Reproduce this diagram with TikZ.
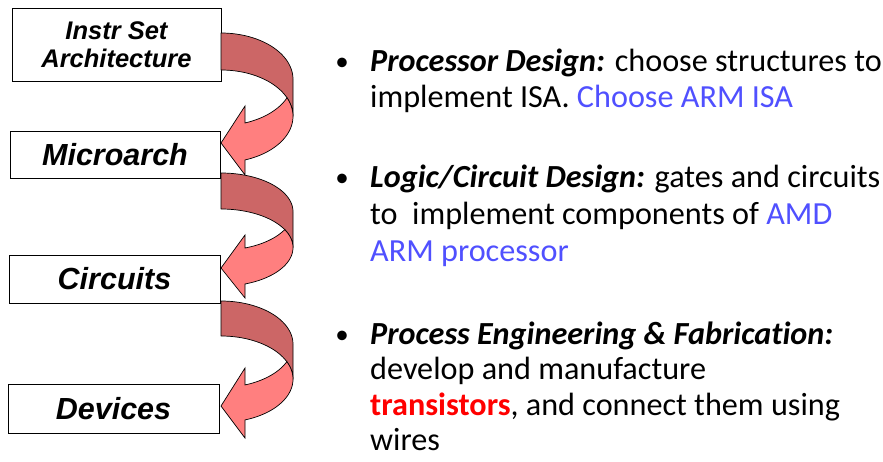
\documentclass[tikz,border=0pt]{standalone}
\usepackage{fontspec}
\setmainfont{Carlito}[Ligatures=NoCommon]
\newfontfamily\boxfont{Liberation Sans}
\definecolor{backred}{HTML}{CC6666}
\definecolor{frontred}{HTML}{FF7F7F}
\definecolor{linkblue}{HTML}{5050FF}
\definecolor{hotred}{HTML}{FF0000}

% Curved ribbon arrow leaving the right side of a box and coming back
% to the next box below.  #1 top edge, #2 band thickness, #3 vertical
% radius of the ellipses, #4 tip y, #5 upper barb y, #6 lower barb y.
\newcommand{\ribbonarrow}[6]{%
  \pgfmathsetmacro\ribA{#1+#3}%
  \pgfmathsetmacro\ribB{#1+#3+#2}%
  \pgfmathsetmacro\ribJ{asin(#2/(2*#3))}%
  \pgfmathsetmacro\ribN{acos(24/72)}%
  % back half of the ribbon
  \filldraw[backband]
    plot[domain=-90:0,samples=50] ({221+72*cos(\x)},{\ribA+#3*sin(\x)})
    -- plot[domain=0:-90,samples=50] ({221+72*cos(\x)},{\ribB+#3*sin(\x)})
    -- cycle;
  % front half with the arrow head
  \filldraw[frontband]
    plot[domain=\ribN:\ribJ,samples=40] ({221+72*cos(\x)},{\ribA+#3*sin(\x)})
    -- plot[domain=-\ribJ:\ribN,samples=50] ({221+72*cos(\x)},{\ribB+#3*sin(\x)})
    -- (245,#6) -- (221,#4) -- (245,#5) -- cycle;
}

\begin{document}
\begin{tikzpicture}[x=1pt,y=-1pt,
  layer/.style={draw=black, line width=0.8pt, fill=white, inner sep=0pt,
    align=center, font=\boxfont\bfseries\itshape\fontsize{30.5}{32}\selectfont},
  backband/.style={fill=backred, draw=black, line width=0.7pt, line join=round},
  frontband/.style={fill=frontred, draw=black, line width=0.7pt, line join=miter},
  txt/.style={anchor=base west, inner sep=0pt, font=\fontsize{32.2}{36}\selectfont},
  dot/.style={anchor=base, inner sep=0pt, font=\fontsize{27}{30}\selectfont}]

\useasboundingbox[fill=white] (0,0) rectangle (883,461);

% abstraction layers
\node[layer, minimum width=209pt, minimum height=73pt,
      font=\boxfont\bfseries\itshape\fontsize{25.5}{28}\selectfont]
  (isa) at (116.5,44.5) {Instr Set\\Architecture};
\node[layer, minimum width=210pt, minimum height=47.5pt] (uarch) at (115,154.75) {Microarch};
\node[layer, minimum width=211pt, minimum height=48pt] (circ) at (114.5,279) {Circuits};
\node[layer, minimum width=211pt, minimum height=49pt] (dev) at (113.5,408.5) {Devices};

% ribbons stepping down from one layer to the next
\ribbonarrow{33}{37}{46.3}{143}{106}{175}
\ribbonarrow{173}{36}{38.6}{268}{235}{298}
\ribbonarrow{301}{35}{43.2}{406}{368}{438}

% bullet list
\node[dot] (b1) at (342,70.5) {•};
\node[txt] (p1a) at (370,71.5) {\textbf{\textit{Processor Design:}} choose structures to};
\node[txt] (p1b) at (370,107.5) {implement ISA. \textcolor{linkblue}{Choose ARM ISA}};

\node[dot] (b2) at (342,186) {•};
\node[txt] (p2a) at (370,187) {\textbf{\textit{Logic/Circuit Design:}} gates and circuits};
\node[txt] (p2b) at (370,224) {to~~implement components of \textcolor{linkblue}{AMD}};
\node[txt] (p2c) at (370,261) {\textcolor{linkblue}{ARM processor}};

\node[dot] (b3) at (342,343) {•};
\node[txt] (p3a) at (370,344) {\textbf{\textit{Process Engineering \& Fabrication:}}};
\node[txt] (p3b) at (370,379.5) {develop and manufacture};
\node[txt] (p3c) at (370,415) {\textcolor{hotred}{\textbf{transistors}}, and connect them using};
\node[txt] (p3d) at (370,450.5) {wires};
\end{tikzpicture}
\end{document}
